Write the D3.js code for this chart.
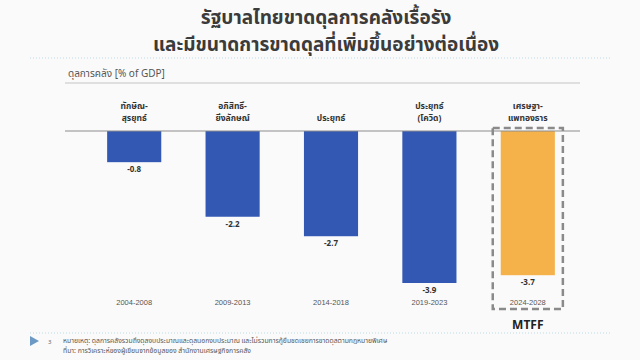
<!DOCTYPE html>
<html>
<head>
<meta charset="utf-8">
<script src="https://cdn.jsdelivr.net/npm/d3@7"></script>
<style>
  body { margin: 0; background: #fafafa; }
  svg { display: block; font-family: "Noto Sans Thai", "Noto Sans", "DejaVu Sans", sans-serif; }
</style>
</head>
<body>
<svg id="chart" width="640" height="360"></svg>
<script>
// data
var periods = ["2004-2008", "2009-2013", "2014-2018", "2019-2023", "2024-2028"];
var govts = [["ทักษิณ-", "สุรยุทธ์"], ["อภิสิทธิ์-", "ยิ่งลักษณ์"], ["ประยุทธ์"], ["ประยุทธ์", "(โควิด)"], ["เศรษฐา-", "แพทองธาร"]];
var balance = [-0.8, -2.2, -2.7, -3.9, -3.7];
var barColors = ["#3358b4", "#3358b4", "#3358b4", "#3358b4", "#f5b24a"];
var titleLines = ["รัฐบาลไทยขาดดุลการคลังเรื้อรัง", "และมีขนาดการขาดดุลที่เพิ่มขึ้นอย่างต่อเนื่อง"];
var notes = ["หมายเหตุ: ดุลการคลังรวมถึงดุลงบประมาณและดุลนอกงบประมาณ และไม่รวมการกู้ยืมชดเชยการขาดดุลตามกฎหมายพิเศษ",
             "ที่มา: การวิเคราะห์ของผู้เขียนจากข้อมูลของ สำนักงานเศรษฐกิจการคลัง"];

var svg = d3.select("#chart");

// title
svg.selectAll(".title")
  .data(titleLines)
  .enter().append("text")
    .attr("x", 326)
    .attr("y", function(d, i) { return 24 + i * 27; })
    .attr("text-anchor", "middle")
    .attr("font-size", 19)
    .attr("font-weight", "bold")
    .attr("fill", "#3b3b3b")
    .text(function(d) { return d; });

svg.append("line")
    .attr("x1", 30).attr("x2", 610).attr("y1", 58).attr("y2", 58)
    .attr("stroke", "#bcdbe6").attr("stroke-dasharray", "1,2");

// axis title
svg.append("text")
    .attr("x", 68).attr("y", 77)
    .attr("font-size", 10)
    .attr("fill", "#555")
    .text("ดุลการคลัง [% of GDP]");
svg.append("line")
    .attr("x1", 65).attr("x2", 580).attr("y1", 83).attr("y2", 83)
    .attr("stroke", "#d6d6d6").attr("stroke-width", 1.5);

var x = d3.scaleBand()
    .domain(periods)
    .range([85, 577])
    .paddingInner(0.45)
    .paddingOuter(0.225);

var y = d3.scaleLinear()
    .domain([0, -3.9])
    .range([131, 283]);

// dashed box around forecast
var last = periods[periods.length - 1];
svg.append("rect")
    .attr("x", x(last) - 8)
    .attr("y", 128)
    .attr("width", x.bandwidth() + 16)
    .attr("height", 181)
    .attr("fill", "none")
    .attr("stroke", "#8a8a8a")
    .attr("stroke-width", 2.5)
    .attr("stroke-dasharray", "7,4");

svg.selectAll(".bar")
  .data(balance)
  .enter().append("rect")
    .attr("class", "bar")
    .attr("x", function(d, i) { return x(periods[i]); })
    .attr("y", y(0))
    .attr("width", x.bandwidth())
    .attr("height", function(d) { return y(d) - y(0); })
    .attr("fill", function(d, i) { return barColors[i]; });

// zero line
svg.append("line")
    .attr("x1", 65).attr("x2", 580).attr("y1", y(0)).attr("y2", y(0))
    .attr("stroke", "#8c8c8c").attr("stroke-width", 1);

// value labels
svg.selectAll(".val")
  .data(balance)
  .enter().append("text")
    .attr("x", function(d, i) { return x(periods[i]) + x.bandwidth() / 2; })
    .attr("y", function(d) { return y(d) + 10; })
    .attr("text-anchor", "middle")
    .attr("font-size", 8)
    .attr("font-weight", "bold")
    .attr("fill", "#333")
    .text(function(d) { return d.toFixed(1); });

// government labels above baseline
var gl = svg.selectAll(".gov")
  .data(govts)
  .enter().append("text")
    .attr("text-anchor", "middle")
    .attr("font-size", 8.5)
    .attr("font-weight", "bold")
    .attr("fill", "#333");
gl.selectAll("tspan")
  .data(function(d, i) { return d.map(function(s, j) { return {s: s, j: j, n: d.length, i: i}; }); })
  .enter().append("tspan")
    .attr("x", function(d) { return x(periods[d.i]) + x.bandwidth() / 2; })
    .attr("y", function(d) { return 121 - (d.n - 1 - d.j) * 12; })
    .text(function(d) { return d.s; });

// period axis
var axis = svg.append("g")
    .attr("transform", "translate(0,300)")
    .call(d3.axisBottom(x).tickSize(0).tickPadding(0));
axis.select(".domain").remove();
axis.selectAll("text")
    .attr("font-size", 7.5)
    .attr("fill", "#555")
    .attr("font-family", "Liberation Sans, sans-serif");

svg.append("text")
    .attr("x", x(last) + x.bandwidth() / 2)
    .attr("y", 329)
    .attr("text-anchor", "middle")
    .attr("font-size", 12)
    .attr("font-weight", "bold")
    .attr("fill", "#222")
    .text("MTFF");

// footer
svg.append("line")
    .attr("x1", 30).attr("x2", 610).attr("y1", 333).attr("y2", 333)
    .attr("stroke", "#bcdbe6").attr("stroke-dasharray", "1,2");
svg.append("path")
    .attr("d", "M30,336 L39,341 L30,346 Z")
    .attr("fill", "#6d9ac4");
svg.append("text")
    .attr("x", 48).attr("y", 344)
    .attr("font-size", 6)
    .attr("fill", "#666")
    .text("3");
svg.selectAll(".note")
  .data(notes)
  .enter().append("text")
    .attr("x", 63)
    .attr("y", function(d, i) { return 343 + i * 10; })
    .attr("font-size", 6.8)
    .attr("fill", "#555")
    .text(function(d) { return d; });
</script>
</body>
</html>
